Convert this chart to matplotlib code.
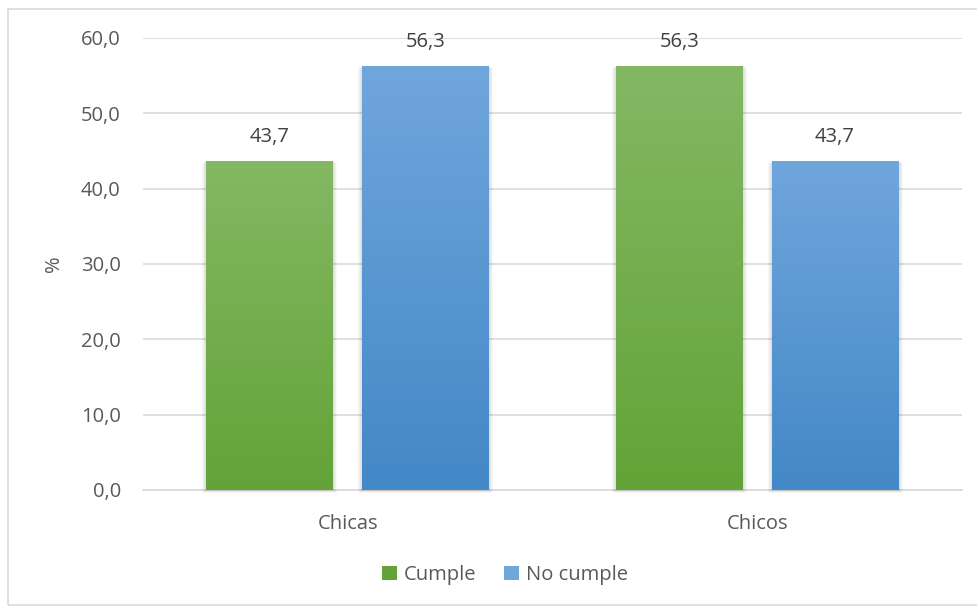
import numpy as np
import matplotlib.pyplot as plt
from matplotlib.colors import LinearSegmentedColormap
from matplotlib.patches import Rectangle, Patch

plt.rcParams['font.family'] = ['Open Sans', 'DejaVu Sans']

categories = ['Chicas', 'Chicos']
cumple = [43.7, 56.3]
no_cumple = [56.3, 43.7]
series_names = ['Cumple', 'No cumple']
yticks = [0, 10, 20, 30, 40, 50, 60]

text_col = '#595959'
grid_col = '#d9d9d9'
# (top, bottom) colours of each series gradient
grads = [('#84b864', '#63a337'), ('#70a6dc', '#4388c7')]

fig = plt.figure(figsize=(9.78, 6.1), dpi=100)
ax = fig.add_axes([143 / 978, 1 - 490 / 610, 819 / 978, 452 / 610])
ax.set_xlim(-0.5, 1.5)
ax.set_ylim(0, 60)

# size of one pixel in data units, used for the soft shadow
px_x = 2.0 / 819
px_y = 60.0 / 452

x = np.arange(len(categories))
width = 0.31
offset = 0.19

for vals, off, (top, bot) in zip([cumple, no_cumple], [-offset, offset], grads):
    bars = ax.bar(x + off, vals, width, color='none', zorder=3)
    cmap = LinearSegmentedColormap.from_list('g', [bot, top])
    for b in bars:
        x0, w, h = b.get_x(), b.get_width(), b.get_height()
        # soft shadow around the bar
        for k in range(1, 5):
            ax.add_patch(Rectangle((x0 - k * px_x, -k * px_y * 0.8), w + 2 * k * px_x,
                                   h + k * px_y * 0.3, facecolor='black', edgecolor='none',
                                   alpha=0.03, zorder=2, clip_on=False))
        grad = np.linspace(0, 1, 256).reshape(-1, 1)
        im = ax.imshow(grad, cmap=cmap, origin='lower', aspect='auto',
                       extent=(x0, x0 + w, 0, h), zorder=3)
        im.set_clip_path(b)
        ax.text(b.get_x() + w / 2, h + 1.8, f'{h:.1f}'.replace('.', ','),
                ha='center', va='bottom', fontsize=14.5, color='#404040', zorder=4)

ax.set_xlim(-0.5, 1.5)
ax.set_ylim(0, 60)
ax.set_yticks(yticks)
ax.set_yticklabels([f'{v:.1f}'.replace('.', ',') for v in yticks])
ax.set_xticks(x)
ax.set_xticklabels(categories)
ax.tick_params(axis='both', length=0, colors=text_col, labelsize=14.5)
ax.tick_params(axis='y', pad=16)
ax.tick_params(axis='x', pad=17)
ax.grid(axis='y', color=grid_col, linewidth=1.2, zorder=0)
ax.set_axisbelow(True)
for s in ['top', 'right', 'left']:
    ax.spines[s].set_visible(False)
ax.spines['bottom'].set_color(grid_col)
ax.spines['bottom'].set_linewidth(1.2)
ax.spines['bottom'].set_zorder(1)
ax.set_ylabel('%', color=text_col, fontsize=14.5, labelpad=12)

handles = [Patch(facecolor=grads[0][1], edgecolor='none'),
           Patch(facecolor=grads[1][0], edgecolor='none')]
fig.legend(handles, series_names, loc='center', bbox_to_anchor=(505 / 978, 1 - 575 / 610),
           ncol=2, frameon=False, fontsize=14.5, labelcolor=text_col,
           handlelength=0.75, handleheight=0.75, handletextpad=0.35, columnspacing=1.4)

# chart area border
fig.add_artist(Rectangle((8 / 978, 5 / 610), 1.2, 596 / 610, transform=fig.transFigure,
                         facecolor='none', edgecolor='#d9d9d9', linewidth=1.2))

fig.savefig('out.png', dpi=100)
